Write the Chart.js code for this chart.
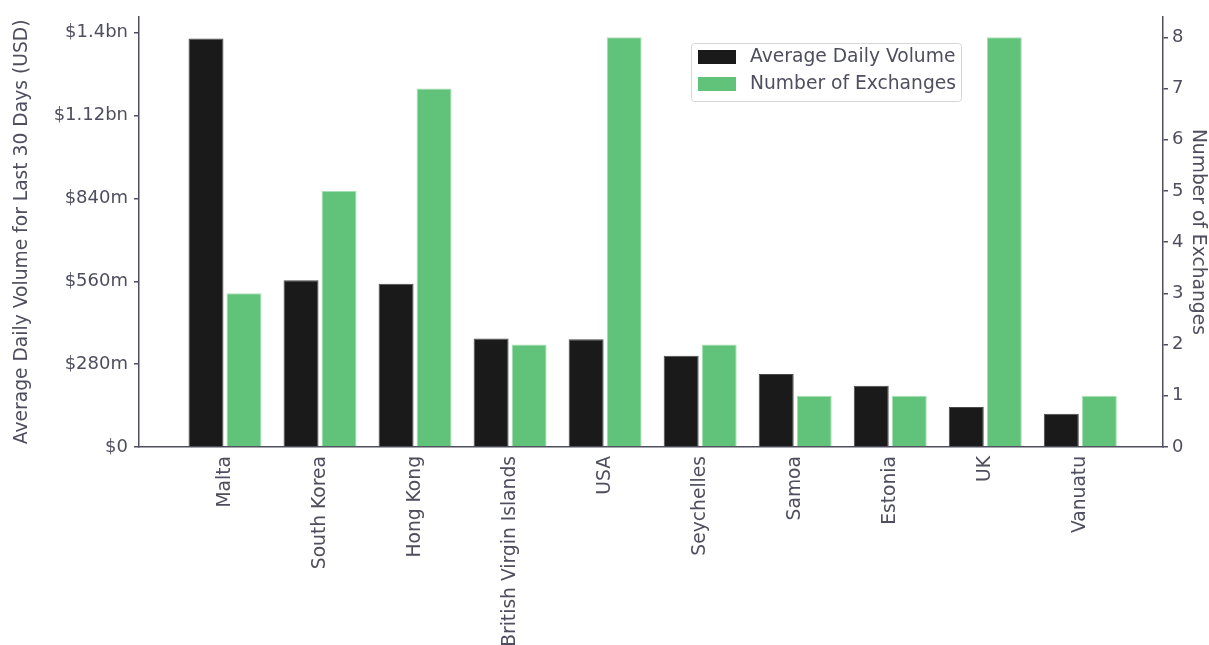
<!DOCTYPE html>
<html>
<head>
<meta charset="utf-8">
<script src="https://cdn.jsdelivr.net/npm/chart.js@4/dist/chart.umd.min.js"></script>
<style>
  html, body { margin: 0; padding: 0; background: #fff; }
  #wrap { width: 1209px; height: 645px; }
</style>
</head>
<body>
<div id="wrap"><canvas id="myChart" width="1209" height="645"></canvas></div>
<script>
const countries = ['Malta', 'South Korea', 'Hong Kong', 'British Virgin Islands', 'USA',
  'Seychelles', 'Samoa', 'Estonia', 'UK', 'Vanuatu'];
// average daily volume, USD
const volume = [1381e6, 564e6, 552e6, 367e6, 364e6, 308e6, 247e6, 207e6, 135e6, 112e6];
const exchanges = [3, 5, 7, 2, 8, 2, 1, 1, 8, 1];
const volumeTicks = [0, 280e6, 560e6, 840e6, 1120e6, 1400e6];
const exchangeTicks = [0, 1, 2, 3, 4, 5, 6, 7, 8];

const textColor = '#4e4e5e';
const font = { family: 'DejaVu Sans', size: 18.7 };
const numFont = { family: 'DejaVu Sans', size: 18 };

const fmtUsd = (v) => {
  if (v === 0) return '$0';
  if (v >= 1e9) return '$' + (v / 1e9) + 'bn';
  return '$' + Math.round(v / 1e6) + 'm';
};

const toPoints = (arr) => arr.map((v, i) => ({ x: i, y: v }));

// legend drawn inside the plot, like the original
const boxLegend = {
  id: 'boxLegend',
  afterDraw(chart) {
    const ctx = chart.ctx;
    const x = 691, y = 43, w = 270, h = 58;
    ctx.save();
    ctx.fillStyle = 'rgba(255,255,255,0.9)';
    ctx.strokeStyle = '#d6d6d6';
    ctx.lineWidth = 1;
    ctx.beginPath();
    ctx.roundRect(x + 0.5, y + 0.5, w, h, 3);
    ctx.fill();
    ctx.stroke();
    ctx.font = font.size + 'px ' + font.family;
    ctx.textBaseline = 'middle';
    chart.data.datasets.forEach((ds, i) => {
      const cy = y + 14 + i * 27;
      ctx.fillStyle = ds.backgroundColor;
      ctx.fillRect(x + 7, cy - 7, 38, 14);
      ctx.fillStyle = textColor;
      ctx.fillText(ds.label, x + 59, cy);
    });
    ctx.restore();
  },
};

const ctx = document.getElementById('myChart').getContext('2d');
const myChart = new Chart(ctx, {
  type: 'bar',
  data: {
    datasets: [{
      label: 'Average Daily Volume',
      data: toPoints(volume),
      yAxisID: 'y',
      backgroundColor: '#1a1a1a',
      borderColor: '#4a4a4a',
      borderWidth: 1,
    }, {
      label: 'Number of Exchanges',
      data: toPoints(exchanges),
      yAxisID: 'y1',
      backgroundColor: '#61c27a',
      borderColor: '#a6dfb4',
      borderWidth: 1,
    }],
  },
  options: {
    responsive: false,
    animation: false,
    categoryPercentage: 0.8,
    barPercentage: 0.92,
    layout: { padding: { top: 15, left: 0, right: 0, bottom: 0 } },
    plugins: {
      legend: { display: false },
      tooltip: { enabled: false },
    },
    scales: {
      x: {
        type: 'linear',
        offset: false,
        min: -0.905,
        max: 9.87,
        afterBuildTicks: (scale) => { scale.ticks = countries.map((c, i) => ({ value: i })); },
        afterFit: (scale) => { scale.height = 198; },
        grid: { display: true, drawOnChartArea: false, drawTicks: false, offset: false },
        border: { display: true, color: textColor, width: 1.5 },
        ticks: {
          autoSkip: false,
          minRotation: 90,
          maxRotation: 90,
          padding: 9,
          color: textColor,
          font,
          callback: (v) => countries[v],
        },
      },
      y: {
        position: 'left',
        min: 0,
        max: 1454e6,
        afterBuildTicks: (scale) => { scale.ticks = volumeTicks.map((v) => ({ value: v })); },
        afterFit: (scale) => { scale.width = 139; },
        grid: { drawOnChartArea: false, drawTicks: true, tickLength: 5, color: textColor, lineWidth: 1.5 },
        border: { display: true, color: textColor, width: 1.5 },
        ticks: { padding: 6, color: textColor, font: numFont, callback: fmtUsd },
        title: {
          display: true,
          text: 'Average Daily Volume for Last 30 Days (USD)',
          color: textColor,
          font,
          padding: { top: 11, bottom: 0 },
        },
      },
      y1: {
        position: 'right',
        min: 0,
        max: 8.4,
        afterBuildTicks: (scale) => { scale.ticks = exchangeTicks.map((v) => ({ value: v })); },
        afterFit: (scale) => { scale.width = 46; },
        grid: { drawOnChartArea: false, drawTicks: true, tickLength: 5, color: textColor, lineWidth: 1.5 },
        border: { display: true, color: textColor, width: 1.5 },
        ticks: { padding: 4, color: textColor, font: numFont },
        title: {
          display: true,
          text: 'Number of Exchanges',
          color: textColor,
          font,
          padding: { top: 0, bottom: 0 },
        },
      },
    },
  },
  plugins: [boxLegend],
});
</script>
</body>
</html>
